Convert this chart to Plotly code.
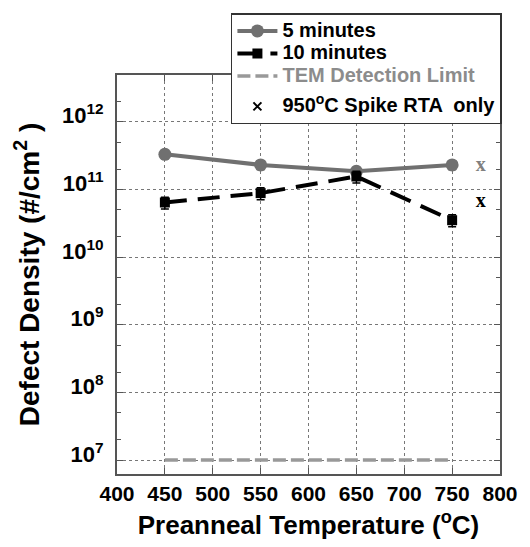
import plotly.graph_objects as go

temps = [450, 550, 650, 750]
five_min = [3.3e11, 2.3e11, 1.85e11, 2.3e11]
ten_min = [6.4e10, 8.8e10, 1.55e11, 3.5e10]
five_err_pct = 15
ten_err_pct = 20
tem_x = [450, 750]
tem_limit = [1e7, 1e7]
spike_x = [780]
spike_five = [2.2e11]
spike_ten = [6.5e10]
xticks = [400, 450, 500, 550, 600, 650, 700, 750, 800]
ytick_exp = [7, 8, 9, 10, 11, 12]

FONT = "Liberation Sans, Arial, sans-serif"
GRAY = "#707070"


def big(s, color="black"):
    return "<span style='font-size:20px;color:%s'>%s</span>" % (color, s)


fig = go.Figure()

fig.add_trace(go.Scatter(
    x=temps, y=five_min, mode="lines+markers", name=big("5 minutes"),
    line=dict(color=GRAY, width=4),
    marker=dict(symbol="circle", size=13, color=GRAY),
    error_y=dict(type="percent", value=five_err_pct, color=GRAY, thickness=1.5, width=4),
    legendgroup="a",
))
fig.add_trace(go.Scatter(
    x=temps, y=ten_min, mode="lines+markers", name=big("10 minutes"),
    line=dict(color="black", width=4, dash="22px,11px"),
    marker=dict(symbol="square", size=10, color="black"),
    error_y=dict(type="percent", value=ten_err_pct, color="black", thickness=1.5, width=4),
    legendgroup="a",
))
fig.add_trace(go.Scatter(
    x=tem_x, y=tem_limit, mode="lines",
    name=big("TEM Detection Limit", "#8c8c8c"),
    line=dict(color="#999999", width=3.5, dash="13px,5px"),
    legendgroup="a",
))
fig.add_trace(go.Scatter(
    x=[None], y=[None], mode="markers",
    name=big("950<sup>o</sup>C Spike RTA  only"),
    marker=dict(symbol="x-thin", size=8, color="black", line=dict(width=2, color="black")),
    legendgroup="b",
))
fig.add_trace(go.Scatter(
    x=spike_x, y=spike_five, mode="text", text=["x"], showlegend=False,
    textfont=dict(family="Liberation Serif, Times New Roman, serif", size=20, color="#808080", weight="bold"),
))
fig.add_trace(go.Scatter(
    x=spike_x, y=spike_ten, mode="text", text=["x"], showlegend=False,
    textfont=dict(family="Liberation Serif, Times New Roman, serif", size=20, color="black", weight="bold"),
))

fig.update_layout(
    width=530, height=547,
    margin=dict(l=117, r=29, t=75, b=71),
    paper_bgcolor="white", plot_bgcolor="white",
    font=dict(family=FONT, color="black", weight="bold"),
    showlegend=True,
    legend=dict(
        x=1.005, y=1.155, xanchor="right", yanchor="top",
        bgcolor="white", bordercolor="#333333", borderwidth=1.5,
        font=dict(family=FONT, size=15, color="black", weight="bold"),
        itemwidth=40, traceorder="grouped", tracegroupgap=8,
    ),
    xaxis=dict(
        range=[400, 800], tickvals=xticks, ticktext=[str(v) for v in xticks],
        showgrid=True, gridcolor="#777777", griddash="dot", gridwidth=1,
        showline=True, linecolor="#555555", linewidth=2, mirror="ticks",
        ticks="inside", ticklen=6, tickcolor="#555555",
        tickfont=dict(family=FONT, size=21, weight="bold"),
        title=dict(text="Preanneal Temperature (<sup>o</sup>C)", standoff=12,
                   font=dict(family=FONT, size=26, weight="bold")),
        zeroline=False,
    ),
    yaxis=dict(
        type="log", range=[6.794, 12.69],
        tickvals=[10 ** e for e in ytick_exp],
        ticktext=["10<sup>%d</sup>" % e for e in ytick_exp],
        ticklabelshift=-6, ticklabelstandoff=7,
        showgrid=True, gridcolor="#777777", griddash="dot", gridwidth=1,
        showline=True, linecolor="#555555", linewidth=2, mirror="ticks",
        ticks="inside", ticklen=6, tickcolor="#555555",
        minor=dict(ticks="inside", ticklen=4, tickcolor="#555555", showgrid=False),
        tickfont=dict(family=FONT, size=22, weight="bold"),
        title=dict(text="Defect Density (#/cm<sup>2</sup> )", standoff=14,
                   font=dict(family=FONT, size=28, weight="bold")),
        zeroline=False,
    ),
)

fig.write_html("out.html")
